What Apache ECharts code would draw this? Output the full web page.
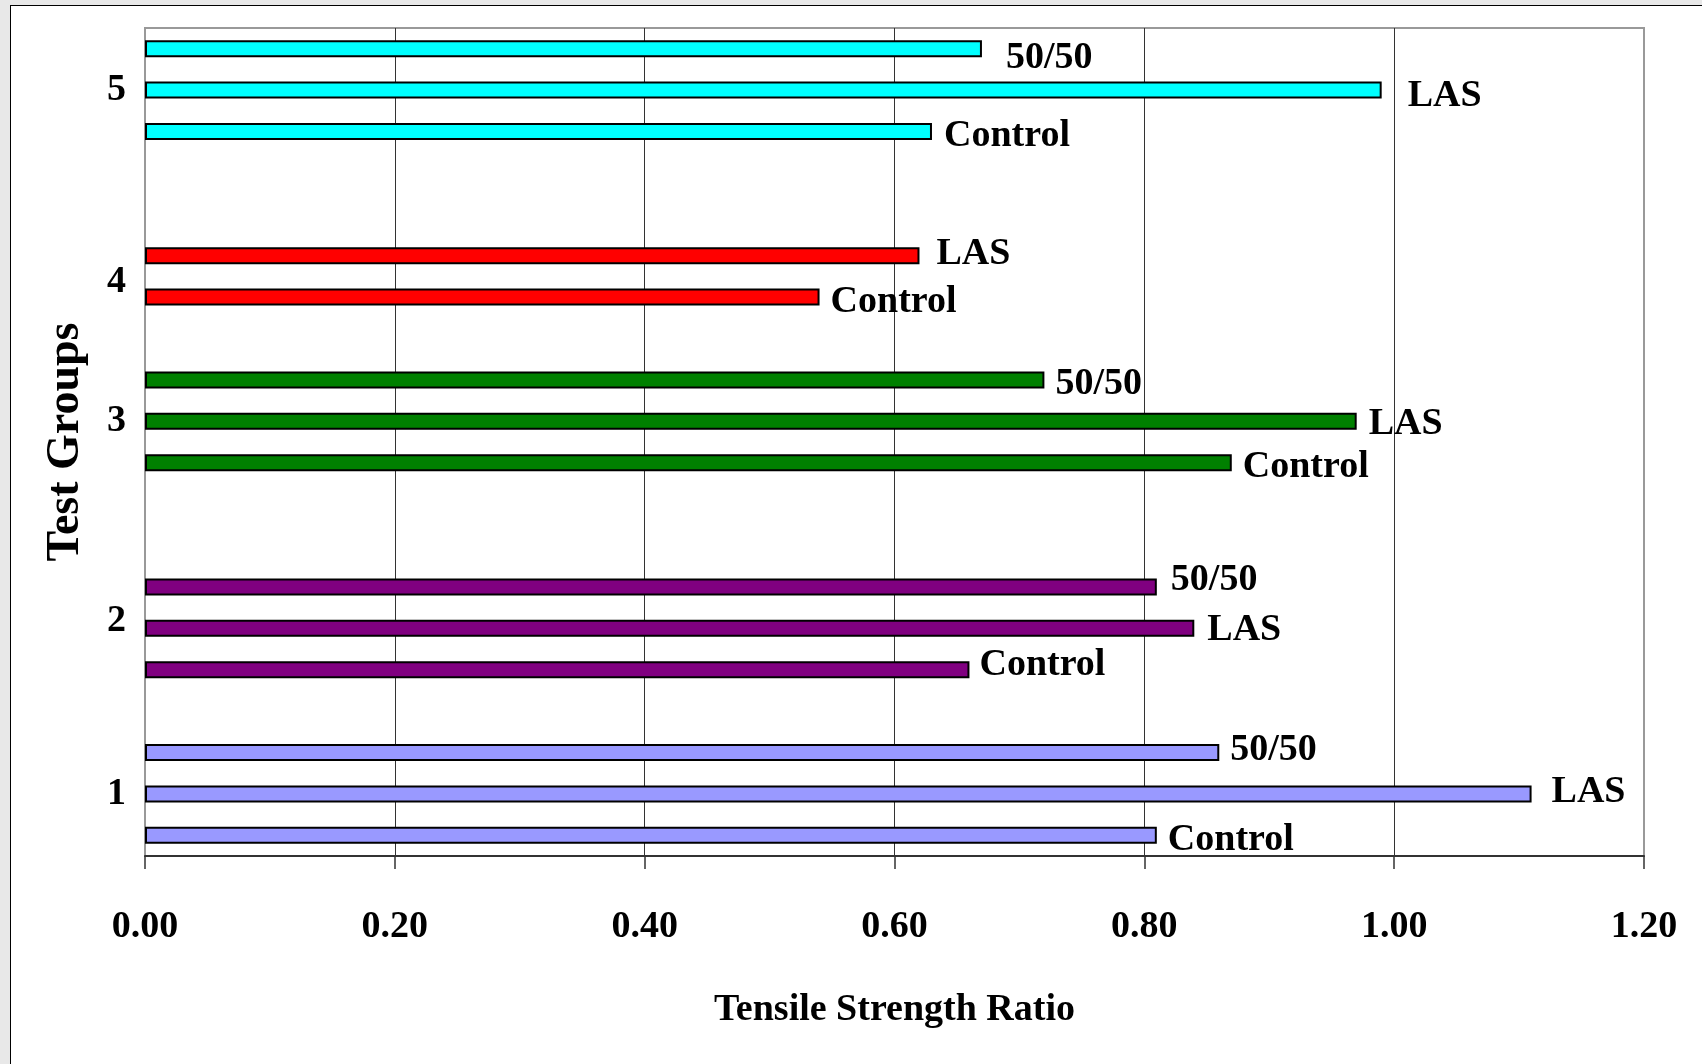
<!DOCTYPE html>
<html>
<head>
<meta charset="utf-8">
<title>Tensile Strength Ratio by Test Group</title>
<script src="https://cdn.jsdelivr.net/npm/echarts@6/dist/echarts.min.js"></script>
<style>
  html, body { margin: 0; padding: 0; background: #e8e8e8; }
  #frame {
    position: absolute; left: 10px; top: 5px; width: 1700px; height: 1070px;
    background: #ffffff; border-left: 1px solid #000; border-top: 1px solid #000;
  }
  #chart { position: absolute; left: 0; top: 0; width: 1702px; height: 1064px; }
</style>
</head>
<body>
<div id="frame"></div>
<div id="chart"></div>
<script>
// Rows of the chart, listed top to bottom (blank rows separate the groups)
const rowGroup = ['5', '5', '5', '', '', '4', '4', '', '3', '3', '3', '', '', '2', '2', '2', '', '1', '1', '1'];
const rowType = ['50/50', 'LAS', 'Control', '', '', 'LAS', 'Control', '', '50/50', 'LAS', 'Control', '', '',
                 '50/50', 'LAS', 'Control', '', '50/50', 'LAS', 'Control'];
const rowValue = [0.67, 0.99, 0.63, null, null, 0.62, 0.54, null, 0.72, 0.97, 0.87, null, null,
                  0.81, 0.84, 0.66, null, 0.86, 1.11, 0.81];

// Fill colour for each test group
const groupColor = { '1': '#9999FF', '2': '#800080', '3': '#008000', '4': '#FF0000', '5': '#00FFFF' };

// Tensile strength ratio axis ticks
const xTicks = [0.00, 0.20, 0.40, 0.60, 0.80, 1.00, 1.20];

// Small hand placements of the bar-end text labels [dx, dy]
const labelNudge = [[14, 9], [16, 6], [2, 5], null, null, [7, -2], [1, 5], null, [1, 4], [2, 3], [1, 4], null, null,
                    [4, -7], [3, 2], [0, -5], null, [1, -2], [10, -2], [1, 5]];

// Vertical nudge of the group tick labels (px, positive = down)
const groupLabelNudge = { '2': -7, '4': 6 };

const FONT = '"Liberation Serif", "Times New Roman", serif';
const FS = 38;

const chart = echarts.init(document.getElementById('chart'), null, { renderer: 'canvas' });
const slot = (1064 - 28 - 208) / rowGroup.length;

// Group tick label goes at the middle row of each group
const groupTick = {};
Object.keys(groupColor).forEach(g => {
  const rows = rowGroup.map((v, i) => v === g ? i : -1).filter(i => i >= 0);
  const mid = (rows[0] + rows[rows.length - 1]) / 2;
  const shift = (mid % 1) * slot + (groupLabelNudge[g] || 0);
  groupTick[Math.floor(mid)] = { name: g, shift: shift };
});

const barData = rowValue.map((v, i) => {
  if (v === null) return null;
  const n = labelNudge[i] || [0, 0];
  return {
    value: v,
    itemStyle: { color: groupColor[rowGroup[i]] },
    label: { offset: n }
  };
});

const tickRich = { fontFamily: FONT, fontSize: FS, fontWeight: 'bold', color: '#000' };
const rich = {};
Object.keys(groupTick).forEach(k => {
  const s = groupTick[k].shift;
  rich['g' + k] = Object.assign({}, tickRich, {
    padding: s >= 0 ? [Math.round(2 * s), 0, 0, 0] : [0, 0, Math.round(-2 * s), 0]
  });
});

chart.setOption({
  animation: false,
  grid: {
    left: 145, right: 58, top: 28, bottom: 208,
    show: true, borderColor: '#999999', borderWidth: 2, backgroundColor: 'transparent'
  },
  xAxis: {
    type: 'value',
    min: xTicks[0], max: xTicks[xTicks.length - 1], interval: 0.2,
    name: 'Tensile Strength Ratio',
    nameLocation: 'middle', nameGap: 135,
    nameTextStyle: { fontFamily: FONT, fontSize: FS, fontWeight: 'bold', color: '#000' },
    axisLine: { show: true, lineStyle: { color: '#333333', width: 2 } },
    axisTick: { show: true, length: 13, lineStyle: { color: '#333333', width: 1.5 } },
    axisLabel: {
      margin: 52, fontFamily: FONT, fontSize: FS, fontWeight: 'bold', color: '#000',
      formatter: v => v.toFixed(2)
    },
    splitLine: { show: true, showMinLine: false, showMaxLine: false, lineStyle: { color: '#333333', width: 1 } }
  },
  yAxis: {
    type: 'category',
    inverse: true,
    data: rowGroup.map((g, i) => 'row' + i),
    name: 'Test Groups',
    nameLocation: 'middle', nameGap: 56, nameRotate: 90,
    nameTextStyle: { fontFamily: FONT, fontSize: 46, fontWeight: 'bold', color: '#000' },
    axisLine: { show: true, lineStyle: { color: '#999999', width: 2 } },
    axisTick: { show: false },
    axisLabel: {
      interval: 0, margin: 19,
      fontFamily: FONT, fontSize: FS, fontWeight: 'bold', color: '#000',
      formatter: (val, idx) => {
        const t = groupTick[idx];
        return t ? '{g' + idx + '|' + t.name + '}' : '';
      },
      rich: rich
    },
    splitLine: { show: false }
  },
  series: [{
    type: 'bar',
    data: barData,
    barWidth: 17,
    itemStyle: { borderColor: '#000', borderWidth: 2 },
    label: {
      show: true, position: 'right', distance: 10,
      fontFamily: FONT, fontSize: FS, fontWeight: 'bold', color: '#000',
      formatter: p => rowType[p.dataIndex]
    }
  }]
});
</script>
</body>
</html>
